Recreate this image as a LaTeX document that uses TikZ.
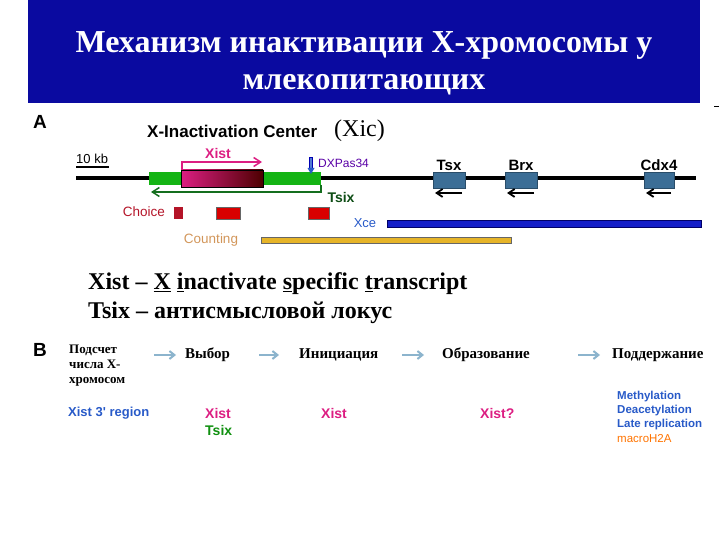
\documentclass[tikz,border=0pt]{standalone}
\usepackage{fontspec}
\setmainfont{Liberation Serif}
\newfontfamily\ar{Liberation Sans}
\usetikzlibrary{arrows.meta}
\definecolor{titleblue}{RGB}{10,10,160}
\definecolor{genebox}{RGB}{60,110,150}
\definecolor{xmag}{RGB}{220,30,130}
\definecolor{tgreen}{RGB}{20,110,30}
\definecolor{boxgreen}{RGB}{20,180,20}
\definecolor{choicered}{RGB}{180,20,40}
\definecolor{xceblue}{RGB}{20,30,200}
\definecolor{cgold}{RGB}{230,180,40}
\definecolor{ctext}{RGB}{210,150,90}
\definecolor{arrblue}{RGB}{140,180,205}
\definecolor{lblue}{RGB}{40,90,200}
\newcommand\fs[1]{\fontsize{#1}{#1}\selectfont}
\begin{document}
\begin{tikzpicture}[x=1pt,y=-1pt,
  lab/.style={font=\ar\bfseries\fs{14},inner sep=0pt},
  ser/.style={font=\bfseries\fs{15},inner sep=0pt,anchor=west},
  gene/.style={fill=genebox,draw=genebox!70!black},
  flow/.style={draw=arrblue,line width=2pt,-{Straight Barb[length=5pt,width=8pt]}}]
\useasboundingbox (0,0) rectangle (720,540);
\fill[titleblue] (28,0) rectangle (700,103);
\node[text=white,font=\bfseries\fontsize{32}{37}\selectfont,align=center] (title) at (364,63) {Механизм инактивации X-хромосомы у\\млекопитающих};
\draw (714,106) -- (719,106);
% Part A
\node[font=\ar\bfseries\fs{19}] (A) at (40,122) {A};
\node[lab,anchor=west,font=\ar\bfseries\fs{17}] (xictitle) at (147,131) {X-Inactivation Center};
\node[font=\fs{24},anchor=west,inner sep=0pt] (xic) at (334,131) {(Xic)};
\node[lab,font=\ar\fs{13},anchor=west] (kb) at (76,159) {10 kb};
\draw[line width=2pt] (76,167) -- (109,167);
\draw[line width=4pt] (76,178) -- (696,178);
\fill[boxgreen] (149,172) rectangle (321,185);
\shade[left color=xmag,right color=black!70!red,draw=black] (181,170) rectangle (263,187);
\coordinate (xs) at (182,170);
\draw[xmag,line width=1.5pt,-{Straight Barb[length=7pt,width=9pt]}] (xs) |- (262,162);
\node[lab,text=xmag] (xist) at (218,153) {Xist};
\draw[draw=blue!70!black,fill=lblue!80,line width=0.3pt] (309.5,157) rectangle (312.5,168);
\fill[lblue] (307.5,168) -- (314.5,168) -- (311,174) -- cycle;
\node[lab,font=\ar\fs{12},text=violet!70!blue,anchor=west] (dxp) at (318,163) {DXPas34};
\coordinate (ts) at (321,185);
\draw[tgreen,line width=1.5pt,-{Straight Barb[length=7pt,width=9pt]}] (ts) |- (151,192);
\node[lab,text=tgreen!70!black] (tsix) at (341,197) {Tsix};
\foreach \n/\l/\r/\t in {tsx/433/465/Tsx, brx/505/537/Brx, cdx/644/674/Cdx4}{
  \draw[gene] (\l,172) rectangle (\r,188);
  \node[lab,font=\ar\bfseries\fs{15}] (\n) at ({(\l+\r)/2},165) {\t};
  \draw[line width=1.8pt,-{Straight Barb[length=6pt,width=8pt]}] (\r-3,193) -- (\l+2,193);
}
\node[lab,font=\ar\fs{13.5},text=choicered] (choice) at (144,212) {Choice};
\fill[choicered] (174,207) rectangle (183,219);
\fill[red!85!black,draw=black!60] (216,207) rectangle (240,219);
\fill[red!85!black,draw=black!60] (308,207) rectangle (329,219);
\node[lab,font=\ar\fs{13},text=lblue] (xce) at (365,223) {Xce};
\fill[xceblue,draw=blue!40!black] (387,220) rectangle (701,227);
\node[lab,font=\ar\fs{13.5},text=ctext] (counting) at (211,240) {Counting};
\fill[cgold,draw=black!60] (261,237) rectangle (511,243);
\node[font=\bfseries\fs{24},anchor=west,inner sep=0pt] (l1) at (88,284) {Xist – \underline{X} \underline{i}nactivate \underline{s}pecific \underline{t}ranscript};
\node[font=\bfseries\fs{24},anchor=west,inner sep=0pt] (l2) at (88,313) {Tsix – антисмысловой локус};
% Part B
\node[font=\ar\bfseries\fs{19}] (B) at (40,350) {B};
\node[ser,align=left,anchor=north west,font=\bfseries\fontsize{13}{15}\selectfont] (s1) at (69,345) {Подсчет\\числа X-\\хромосом};
\node[ser] (s2) at (185,355) {Выбор};
\node[ser] (s3) at (299,355) {Инициация};
\node[ser] (s4) at (442,355) {Образование};
\node[ser] (s5) at (612,355) {Поддержание};
\coordinate (a1s) at (154,355); \coordinate (a1e) at (176,355);
\coordinate (a2s) at (259,355); \coordinate (a2e) at (279,355);
\coordinate (a3s) at (402,355); \coordinate (a3e) at (424,355);
\coordinate (a4s) at (578,355); \coordinate (a4e) at (600,355);
\draw[flow] (a1s) -- (a1e);
\draw[flow] (a2s) -- (a2e);
\draw[flow] (a3s) -- (a3e);
\draw[flow] (a4s) -- (a4e);
\node[lab,anchor=west,font=\ar\bfseries\fs{13},text=lblue] (x3) at (68,413) {Xist 3' region};
\node[lab,anchor=west,text=xmag] (bx1) at (205,413) {Xist};
\node[lab,anchor=west,text=boxgreen!80!black] (bt) at (205,430) {Tsix};
\node[lab,anchor=west,text=xmag] (bx2) at (321,413) {Xist};
\node[lab,anchor=west,text=xmag] (bx3) at (480,413) {Xist?};
\node[lab,anchor=west,font=\ar\bfseries\fs{11.5},text=lblue] (m1) at (617,397) {Methylation};
\node[lab,anchor=west,font=\ar\bfseries\fs{11.5},text=lblue] (m2) at (617,411) {Deacetylation};
\node[lab,anchor=west,font=\ar\bfseries\fs{11.5},text=lblue] (m3) at (617,425) {Late replication};
\node[lab,anchor=west,font=\ar\fs{11.5},text=orange!90!red] (m4) at (617,439) {macroH2A};
\end{tikzpicture}
\end{document}
